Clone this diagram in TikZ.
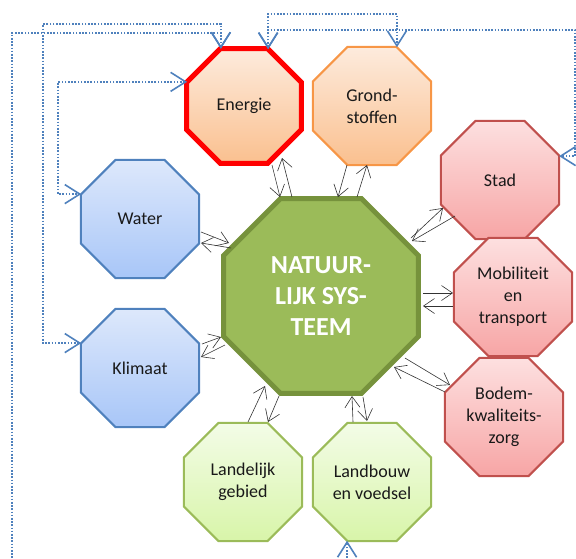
\documentclass[tikz,border=0pt]{standalone}
\usepackage{fontspec}
\setmainfont{Carlito}
\usetikzlibrary{shapes.geometric,arrows.meta,calc}
\definecolor{orTop}{HTML}{FDEBDD}
\definecolor{orBot}{HTML}{FAC08F}
\definecolor{orLine}{HTML}{F79646}
\definecolor{rdTop}{HTML}{FDE0E0}
\definecolor{rdBot}{HTML}{F7A5A5}
\definecolor{rdLine}{HTML}{C0504D}
\definecolor{blTop}{HTML}{DDE8FB}
\definecolor{blBot}{HTML}{A8C6F8}
\definecolor{blLine}{HTML}{4F81BD}
\definecolor{gnTop}{HTML}{F3FCE7}
\definecolor{gnBot}{HTML}{D8F5A9}
\definecolor{gnLine}{HTML}{9BBB59}
\definecolor{gnDark}{HTML}{76923C}
\definecolor{dotblue}{HTML}{4F81BD}
\tikzset{
  oct/.style={regular polygon, regular polygon sides=8, minimum size=128pt,
    inner sep=0pt, outer sep=0pt, line width=2pt, align=center,
    font=\fontsize{18}{22}\selectfont, text=black!90},
  orangeoct/.style={oct, top color=orTop, bottom color=orBot, draw=orLine},
  redoct/.style={oct, top color=rdTop, bottom color=rdBot, draw=rdLine},
  blueoct/.style={oct, top color=blTop, bottom color=blBot, draw=blLine},
  greenoct/.style={oct, top color=gnTop, bottom color=gnBot, draw=gnLine},
  mainoct/.style={regular polygon, regular polygon sides=8, minimum size=211pt,
    inner sep=0pt, outer sep=0pt, line width=5pt, draw=gnDark, fill=gnLine,
    align=center, text=white, font=\fontsize{26}{31}\selectfont\bfseries},
  link/.style={line width=0.6pt, draw=black!80,
    -{Straight Barb[length=11pt,width=15pt]}},
  dotlink/.style={draw=dotblue, line width=1.6pt, dash pattern=on 1.6pt off 1.6pt,
    {Straight Barb[length=15pt,width=19pt]}-{Straight Barb[length=15pt,width=19pt]}},
}
\begin{document}
\begin{tikzpicture}[x=1pt,y=-1pt]
\useasboundingbox (0,0) rectangle (576,558);

\node[mainoct] (ns) at (321,296) {NATUUR-\\LIJK SYS-\\TEEM};
\node[orangeoct, draw=red, line width=5pt, minimum size=124pt] (en) at (244,106) {Energie};
\node[orangeoct] (gr) at (372,106) {Grond-\\stoffen};
\node[redoct] (st) at (500,180) {Stad};
\node[redoct] (mo) at (513,297) {Mobiliteit\\en\\transport};
\node[redoct] (bo) at (504,417) {Bodem-\\kwaliteits-\\zorg};
\node[blueoct] (wa) at (140,219) {Water};
\node[blueoct] (kl) at (140,368) {Klimaat};
\node[greenoct] (la) at (243,482) {Landelijk\\gebied};
\node[greenoct] (lb) at (372,482) {Landbouw\\en voedsel};

% black double links
\draw[link] ($(en)+(28,59)$) -- ($(ns)+(-41,-99)$);
\draw[link] ($(ns)+(-29,-99)$) -- ($(en)+(38,52)$);
\draw[link] ($(gr)+(-25,59)$) -- ($(ns)+(17,-99)$);
\draw[link] ($(ns)+(36,-99)$) -- ($(gr)+(-5,59)$);
\draw[link] ($(wa)+(61,13)$) -- ($(ns)+(-92,-53)$);
\draw[link] ($(ns)+(-90,-48)$) -- ($(wa)+(61,24)$);
\draw[link] ($(kl)+(62,-24)$) -- ($(ns)+(-100,41)$);
\draw[link] ($(ns)+(-96,49)$) -- ($(kl)+(61,-11)$);
\draw[link] ($(ns)+(90,-58)$) -- ($(st)+(-57,28)$);
\draw[link] ($(st)+(-45,36)$) -- ($(ns)+(91,-55)$);
\draw[link] ($(ns)+(102,-3)$) -- ($(mo)+(-60,-4)$);
\draw[link] ($(mo)+(-60,9)$) -- ($(ns)+(102,10)$);
\draw[link] ($(ns)+(84,62)$) -- ($(bo)+(-54,-32)$);
\draw[link] ($(bo)+(-59,-25)$) -- ($(ns)+(73,71)$);
\draw[link] ($(la)+(5,-60)$) -- ($(ns)+(-56,90)$);
\draw[link] ($(ns)+(-42,100)$) -- ($(la)+(25,-60)$);
\draw[link] ($(lb)+(-19,-60)$) -- ($(ns)+(31,100)$);
\draw[link] ($(ns)+(42,101)$) -- ($(lb)+(-5,-61)$);

% blue dotted links
\draw[dotlink] (en.112.5) |- (43,24) |- (kl.157.5);
\draw[dotlink] (en.112.5) |- (12,33) -- (12,580) -| (lb.247.5);
\draw[dotlink] (en.157.5) -- ++(-129,0) |- (wa.157.5);
\draw[dotlink] (en.67.5) |- (300,14) -| (gr.67.5);
\draw[dotlink] (en.67.5) |- (575,30) |- (st.22.5);
\end{tikzpicture}
\end{document}
